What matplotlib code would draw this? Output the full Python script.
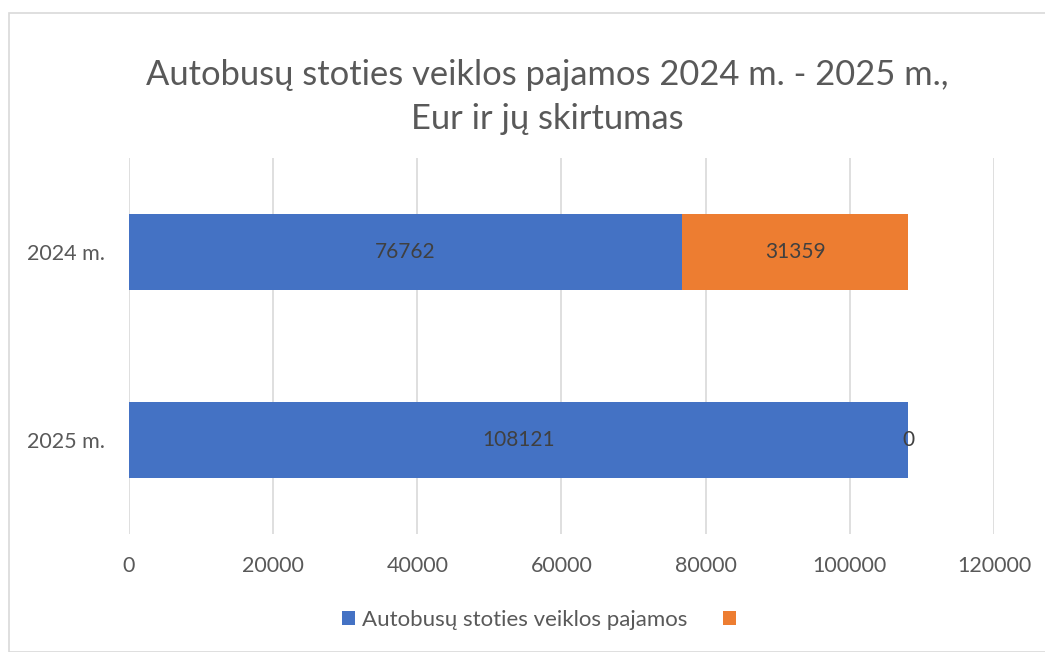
import matplotlib.pyplot as plt
from matplotlib.patches import Rectangle

# data
years = ["2024 m.", "2025 m."]
pajamos = [76762, 108121]
skirtumas = [31359, 0]
series_name = "Autobusų stoties veiklos pajamos"
xticks = [0, 20000, 40000, 60000, 80000, 100000, 120000]

plt.rcParams['font.family'] = ['Lato', 'DejaVu Sans']
txtcol = "#595959"

fig = plt.figure(figsize=(10.45, 6.52), dpi=100)
# light frame round the chart
fig.patches.append(Rectangle((9 / 1045, 0), 1.0, 1 - 13 / 652, transform=fig.transFigure,
                             fill=False, edgecolor="#d9d9d9", linewidth=1.2))

ax = fig.add_axes([0.1234, 0.181, 0.8278, 0.5767])
pos = list(range(len(years)))
b1 = ax.barh(pos, pajamos, height=0.4, color="#4472c4", zorder=3)
b2 = ax.barh(pos, skirtumas, left=pajamos, height=0.4, color="#ed7d31", zorder=3)

for i in pos:
    ax.text(pajamos[i] / 2, i, str(pajamos[i]), ha="center", va="center",
            fontsize=15, color="#404040", zorder=4)
    ax.text(pajamos[i] + skirtumas[i] / 2, i, str(skirtumas[i]), ha="center", va="center",
            fontsize=15, color="#404040", zorder=4)

ax.set_xlim(0, 120000)
ax.set_ylim(1.5, -0.5)
ax.set_yticks(pos)
ax.set_yticklabels(years)
ax.set_xticks(xticks)
ax.set_xticklabels([str(v) for v in xticks])
ax.tick_params(axis="both", length=0, labelsize=15.5, colors=txtcol)
ax.tick_params(axis="x", pad=16)
ax.tick_params(axis="y", pad=17)
ax.grid(axis="x", color="#d9d9d9", linewidth=1.2, zorder=0)
for s in ax.spines.values():
    s.set_visible(False)

fig.text(0.524, 0.851, "Autobusų stoties veiklos pajamos 2024 m. - 2025 m.,\nEur ir jų skirtumas",
         ha="center", va="center", fontsize=24.8, color=txtcol, linespacing=1.45)

fig.legend([b1, b2], [series_name, " "], loc="center", bbox_to_anchor=(0.522, 0.049),
           ncol=2, frameon=False, fontsize=16, handlelength=0.6, handleheight=0.6,
           handletextpad=0.3, columnspacing=1.6, labelcolor=txtcol)

plt.savefig("out.png", dpi=100)
